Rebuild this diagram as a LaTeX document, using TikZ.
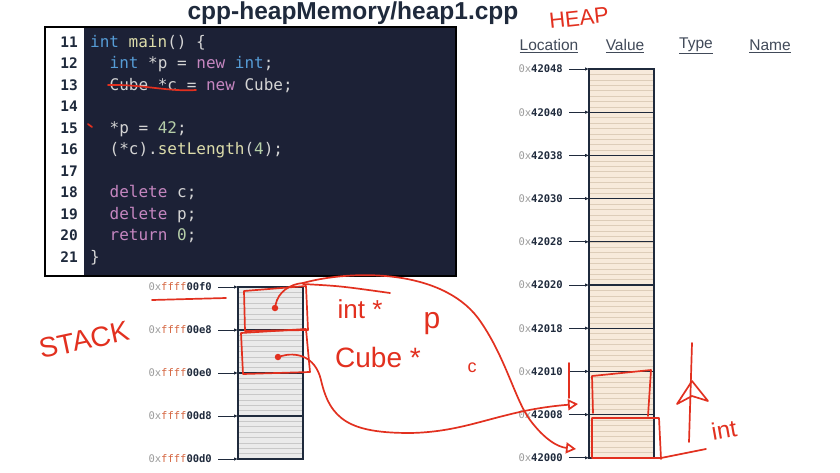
\documentclass[tikz,border=0pt]{standalone}
\usepackage{fontspec}
\setmainfont{Liberation Sans}
\newfontfamily\codefont{DejaVu Sans Mono}
\usetikzlibrary{positioning,arrows.meta}

\definecolor{navy}{HTML}{1C2136}
\definecolor{ink}{HTML}{1F2A3C}
\definecolor{codetext}{HTML}{D4D4D4}
\definecolor{kwblue}{HTML}{569CD6}
\definecolor{kwpink}{HTML}{C586C0}
\definecolor{fnyellow}{HTML}{DCDCAA}
\definecolor{numgreen}{HTML}{B5CEA8}
\definecolor{penred}{HTML}{E2301F}
\definecolor{heapfill}{HTML}{F7EADB}
\definecolor{heapbyte}{HTML}{DDCDB9}
\definecolor{stackfill}{HTML}{EAEAEA}
\definecolor{stackbyte}{HTML}{C8C8C8}
\definecolor{hexred}{HTML}{D5643F}
\definecolor{hexgray}{HTML}{9C9C9C}

\newcommand{\ckw}[1]{\textcolor{kwblue}{#1}}
\newcommand{\cpk}[1]{\textcolor{kwpink}{#1}}
\newcommand{\cfn}[1]{\textcolor{fnyellow}{#1}}
\newcommand{\cnum}[1]{\textcolor{numgreen}{#1}}

\tikzset{
  codeline/.style={anchor=base west, inner sep=0pt, text=codetext, font=\codefont\fontsize{16}{16}\selectfont},
  lineno/.style={anchor=base east, inner sep=0pt, text=ink, font=\codefont\bfseries\fontsize{14.5}{14.5}\selectfont},
  addr/.style={inner sep=1pt, text=ink, font=\codefont\fontsize{10.5}{10.5}\selectfont},
  addrarrow/.style={-{Latex[length=4pt,width=3.5pt]}, line width=0.9pt, draw=ink, shorten <=5pt},
  colhead/.style={text=ink!85, font=\fontsize{15.5}{15.5}\selectfont},
  scribble/.style={draw=penred, line width=1.7pt, line cap=round, line join=round},
  handtip/.style={-{Triangle[open,length=10pt,width=11pt]}},
  hand/.style={text=penred, inner sep=0pt, font=\fontsize{24}{24}\selectfont},
  pdot/.style={circle, fill=penred, inner sep=2.3pt, outer sep=0pt},
}

\begin{document}
\begin{tikzpicture}[x=1pt, y=-1pt]
  \useasboundingbox (0,0) rectangle (840,472);
  \fill[white] (0,0) rectangle (840,472);

  % title
  \node[text=ink, font=\bfseries\fontsize{24.5}{24.5}\selectfont] (title) at (353,13) {cpp-heapMemory/heap1.cpp};

  % code panel
  \fill[white] (45,27) rectangle (84,276);
  \fill[navy] (84,27) rectangle (456,276);
  \draw[black, line width=1.5pt] (45,27) rectangle (456,276);
  \foreach \n [count=\i from 0] in {11,...,21}
    \node[lineno] (ln\n) at (78,{47+\i*21.5}) {\n};
  \node[codeline] (c11) at (90,47)    {\ckw{int} \cfn{main}() \{};
  \node[codeline] (c12) at (109.5,68.5) {\ckw{int} *p = \cpk{new} \ckw{int};};
  \node[codeline] (c13) at (109.5,90)   {Cube *c = \cpk{new} Cube;};
  \node[codeline] (c15) at (109.5,133)  {*p = \cnum{42};};
  \node[codeline] (c16) at (109.5,154.5) {(*c).\cfn{setLength}(\cnum{4});};
  \node[codeline] (c18) at (109.5,197.5) {\cpk{delete} c;};
  \node[codeline] (c19) at (109.5,219)  {\cpk{delete} p;};
  \node[codeline] (c20) at (109.5,240.5) {\cpk{return} \cnum{0};};
  \node[codeline] (c21) at (90,262)   {\}};

  % heap column
  \node[colhead] (hLoc) at (549,46) {\underline{Location}};
  \node[colhead] (hVal) at (625,46) {\underline{Value}};
  \node[colhead] (hTyp) at (696,46) {\underline{Type}};
  \node[colhead] (hNam) at (770,46) {\underline{Name}};
  \fill[heapfill] (589,69) rectangle (654,458);
  \foreach \k in {1,...,71}
    \draw[heapbyte, line width=0.6pt] (589,{69+\k*5.4}) -- (654,{69+\k*5.4});
  \foreach \a [count=\i from 0] in {48,40,38,30,28,20,18,10,08,00} {
    \coordinate (heap\a) at (589,{69+\i*43.2});
    \draw[ink, line width=1.3pt] (heap\a) -- ++(65,0);
    \node[addr, left=25pt of heap\a] (hlbl\a) {\textcolor{hexgray}{0x}\textbf{420\a}};
    \draw[addrarrow] (hlbl\a) -- (heap\a);
  }
  \draw[ink, line width=1.8pt] (589,69) rectangle (654,458);

  % stack column
  \fill[stackfill] (238,287) rectangle (303,459);
  \foreach \k in {1,...,31}
    \draw[stackbyte, line width=0.6pt] (238,{287+\k*5.375}) -- (303,{287+\k*5.375});
  \foreach \a [count=\i from 0] in {f0,e8,e0,d8,d0} {
    \coordinate (stack\a) at (238,{287+\i*43});
    \draw[ink, line width=1.3pt] (stack\a) -- ++(65,0);
    \node[addr, left=25pt of stack\a] (slbl\a) {\textcolor{hexgray}{0x}\textcolor{hexred}{ffff}\textbf{00\a}};
    \draw[addrarrow] (slbl\a) -- (stack\a);
  }
  \draw[ink, line width=1.8pt] (238,287) rectangle (303,459);

  % pen notes
  \draw[scribble] (108,85) .. controls (140,84) and (170,92) .. (196,90);
  \draw[scribble] (88,124) -- (92,127);
  \draw[scribble] (152,300) -- (226,298);
  \node[hand, rotate=6, font=\fontsize{22}{22}\selectfont] (heapNote) at (579,18) {HEAP};
  \node[hand, rotate=12, font=\fontsize{28}{28}\selectfont] (stackNote) at (84,340) {STACK};

  % stack boxes p and c
  \draw[scribble] (244,291) -- (306,286) -- (308,330) -- (245,331) -- cycle;
  \draw[scribble] (241,333) -- (306,329) -- (310,372) -- (243,374) -- cycle;
  \node[pdot] (dotP) at (275,308) {};
  \node[pdot] (dotC) at (278,357) {};
  \node[hand, font=\fontsize{26}{26}\selectfont] (pType) at (360,309) {int *};
  \node[hand, font=\fontsize{28}{28}\selectfont] (cType) at (378,357) {Cube *};
  \node[hand, anchor=base, font=\fontsize{30}{30}\selectfont] (pName) at (432,328) {p};
  \node[hand, font=\fontsize{18}{18}\selectfont] (cName) at (472,368) {c};

  % heap boxes
  \draw[scribble] (593,413) -- (592,376) -- (651,370) -- (648,416);
  \draw[scribble] (592,457) -- (592,418) -- (659,418) -- (661,459);
  \draw[scribble] (592,458) -- (661,458) -- (706,449);
  \node[hand, rotate=10] (intNote) at (724,430) {int};
  \draw[scribble] (689,442) -- (692,343);
  \draw[scribble] (677,404) -- (692,381) -- (708,401) -- (692,396) -- cycle;
  \draw[scribble] (569,363) -- (569,398);

  % pointers
  \coordinate (pEnd) at (576,449);
  \coordinate (cEnd) at (578,404);
  \draw[scribble] (dotP) .. controls (278,292) and (290,284) .. (303,283);
  \draw[scribble] (303,284) .. controls (340,286) .. (390,293);
  \draw[scribble, handtip] (303,283) .. controls (350,270) and (440,268) .. (478,318)
    .. controls (505,355) and (515,400) .. (530,420)
    .. controls (545,440) and (558,447) .. (pEnd);
  \draw[scribble, handtip] (dotC) .. controls (295,352) and (315,355) .. (321,380)
    .. controls (330,420) and (350,433) .. (410,433)
    .. controls (470,432) and (500,410) .. (cEnd);
\end{tikzpicture}
\end{document}
